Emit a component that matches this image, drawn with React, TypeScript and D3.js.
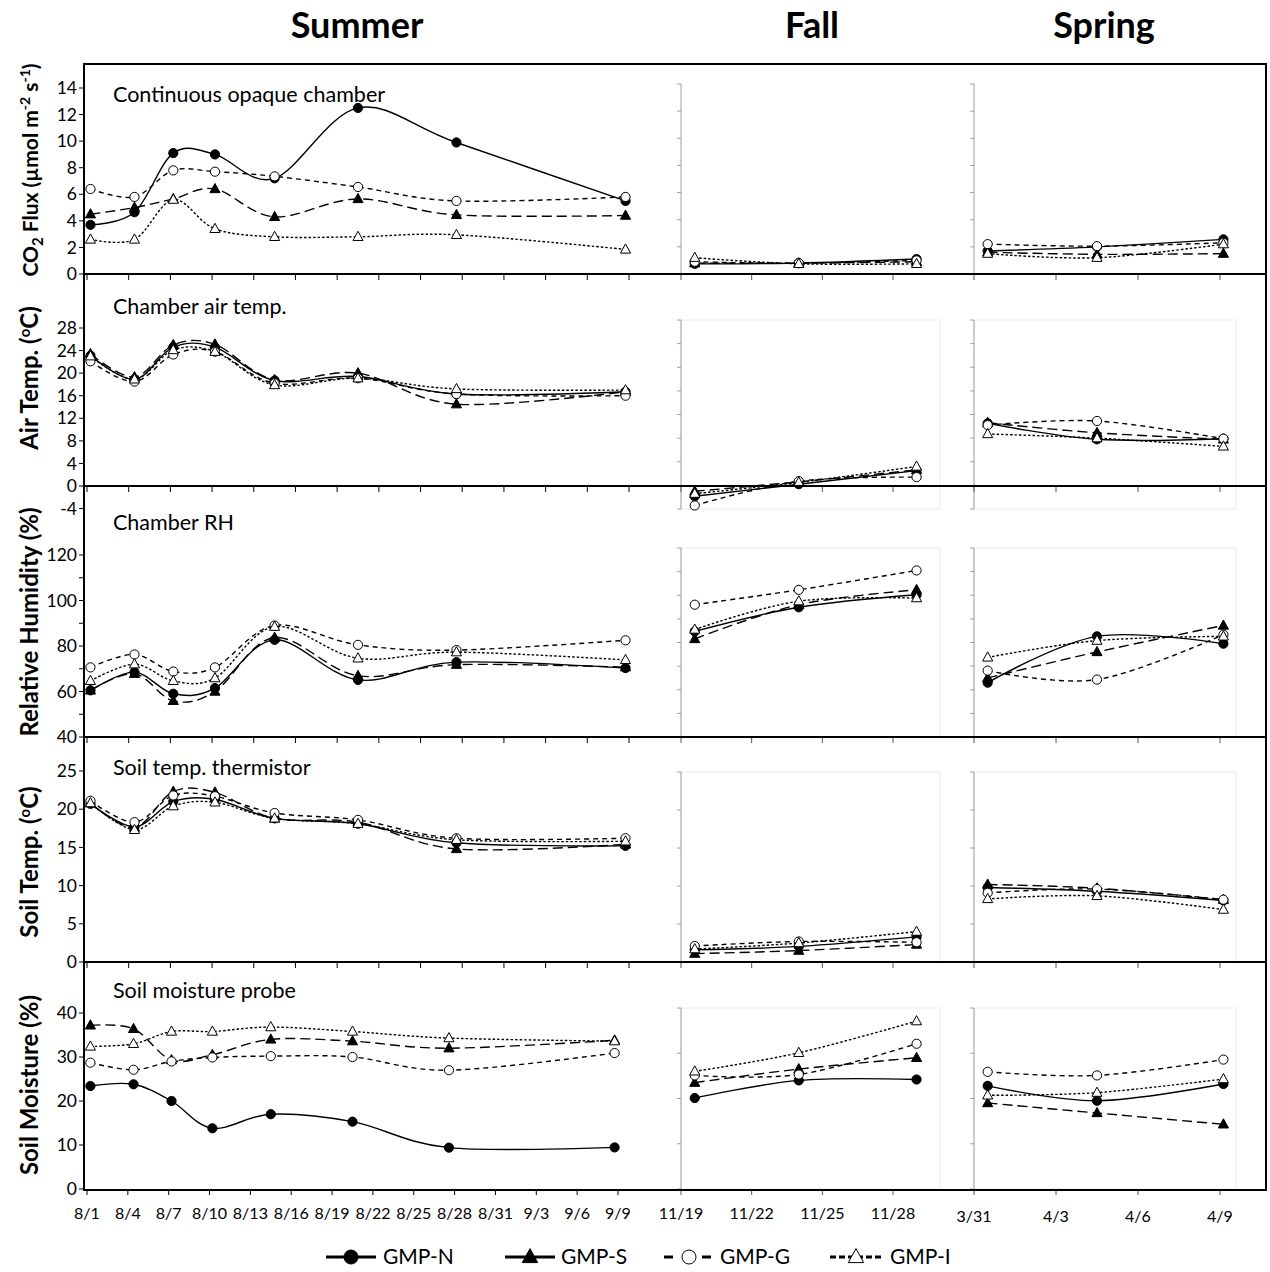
import React from "react";
import * as d3 from "d3";

// ---- data ----
const seriesNames = ["GMP-N", "GMP-S", "GMP-G", "GMP-I"];

const summerDates = [
  "2012-08-01T06:00", "2012-08-04T10:00", "2012-08-07T05:00", "2012-08-10T05:00",
  "2012-08-14T12:00", "2012-08-20T12:00", "2012-08-27T14:00", "2012-09-08T18:00",
];
const fallDates = ["2012-11-19T14:00", "2012-11-24T00:00", "2012-11-29T00:00"];
const springDates = ["2013-03-31T12:00", "2013-04-04T12:00", "2013-04-09T03:00"];

// rows: GMP-N, GMP-S, GMP-G, GMP-I
const co2Summer = [
  [3.7, 4.65, 9.1, 9.0, 7.2, 12.5, 9.9, 5.5],
  [4.5, 5.0, 5.65, 6.4, 4.3, 5.65, 4.45, 4.4],
  [6.4, 5.8, 7.8, 7.7, 7.35, 6.55, 5.5, 5.8],
  [2.6, 2.6, 5.6, 3.4, 2.8, 2.8, 2.95, 1.85],
];
const co2Fall = [
  [0.75, 0.8, 1.1],
  [0.8, 0.8, 0.9],
  [0.9, 0.8, 1.0],
  [1.2, 0.75, 0.75],
];
const co2Spring = [
  [1.7, 2.0, 2.55],
  [1.6, 1.45, 1.5],
  [2.2, 2.05, 2.3],
  [1.5, 1.2, 2.2],
];

const airSummer = [
  [23.1, 18.9, 24.6, 24.6, 18.7, 19.4, 16.3, 16.7],
  [23.4, 19.3, 25.0, 25.1, 18.8, 20.0, 14.5, 16.7],
  [22.1, 18.5, 23.3, 23.8, 18.2, 19.1, 16.3, 16.0],
  [23.0, 18.9, 24.1, 23.8, 17.9, 19.1, 17.2, 17.0],
];
const airFall = [
  [-1.85, 0.2, 2.5],
  [-1.0, 0.6, 2.6],
  [-3.4, 0.7, 1.4],
  [-1.4, 0.5, 3.2],
];
const airSpring = [
  [10.5, 7.8, 7.9],
  [10.6, 8.9, 7.8],
  [10.2, 10.9, 7.9],
  [8.7, 8.0, 6.6],
];

const rhSummer = [
  [60.5, 68.5, 59.0, 61.5, 82.7, 65.1, 72.9, 70.3],
  [60.5, 67.8, 55.9, 60.0, 83.7, 66.9, 71.8, 70.7],
  [70.6, 76.3, 68.8, 70.6, 89.0, 80.5, 78.2, 82.5],
  [64.7, 72.0, 64.7, 65.9, 88.5, 74.6, 77.3, 73.9],
];
const rhFall = [
  [84.7, 94.9, 100.2],
  [81.5, 96.0, 102.3],
  [96.0, 102.3, 110.5],
  [85.5, 97.5, 98.8],
];
const rhSpring = [
  [63.0, 82.6, 79.5],
  [65.0, 76.0, 87.2],
  [68.1, 64.3, 83.3],
  [73.7, 80.8, 82.6],
];

const soilTSummer = [
  [20.7, 17.7, 21.0, 21.3, 18.8, 18.1, 15.6, 15.2],
  [20.8, 17.6, 22.3, 22.2, 18.8, 18.3, 14.8, 15.4],
  [21.1, 18.3, 21.8, 21.7, 19.5, 18.6, 16.2, 16.2],
  [20.8, 17.3, 20.4, 20.9, 18.8, 18.1, 16.0, 15.8],
];
const soilTFall = [
  [1.6, 2.05, 3.3],
  [1.1, 1.5, 2.3],
  [2.1, 2.7, 2.6],
  [1.7, 2.5, 4.0],
];
const soilTSpring = [
  [9.8, 9.3, 8.1],
  [10.2, 9.7, 8.2],
  [9.1, 9.6, 8.2],
  [8.3, 8.7, 6.9],
];

const smSummer = [
  [23.4, 23.8, 20.0, 13.8, 17.0, 15.3, 9.4, 9.45],
  [37.2, 36.4, 29.3, 30.5, 34.0, 33.6, 32.0, 33.8],
  [28.7, 27.1, 29.0, 29.9, 30.2, 30.0, 27.0, 30.9],
  [32.4, 33.0, 35.8, 35.8, 36.8, 35.8, 34.3, 33.6],
];
const smFall = [
  [20.1, 24.0, 24.2],
  [23.5, 26.5, 29.0],
  [25.1, 25.3, 32.1],
  [26.0, 30.1, 37.1],
];
const smSpring = [
  [22.8, 19.5, 23.2],
  [19.0, 16.8, 14.3],
  [25.9, 25.1, 28.6],
  [20.7, 21.3, 24.3],
];

const seasonTitles = ["Summer", "Fall", "Spring"];
const panelTitles = [
  "Continuous opaque chamber",
  "Chamber air temp.",
  "Chamber RH",
  "Soil temp. thermistor",
  "Soil moisture probe",
];

// ---- layout ----
const FONT = "Lato, 'Open Sans', sans-serif";
const BOX = { left: 84, right: 1266, top: 64, bottom: 1190 };

const summerStart = new Date(2012, 7, 1);
const summerEnd = new Date(2012, 8, 9);
const fallStart = new Date(2012, 10, 19);
const fallEnd = new Date(2012, 10, 28);
const springStart = new Date(2013, 2, 31);
const springEnd = new Date(2013, 3, 9);

const fallX = d3.scaleTime().domain([fallStart, fallEnd]).range([681, 893]);
const springX = d3.scaleTime().domain([springStart, springEnd]).range([974, 1220]);

type PanelCfg = {
  title: string;
  titleY: number;
  base: number;
  summerRight: number;
  sumDomain: [number, number];
  sumRange: [number, number];
  sumTicks: number[];
  sumLabels: number[];
  othDomain: [number, number];
  othRange: [number, number];
  othTicks: number[];
  summer: number[][];
  fall: number[][];
  spring: number[][];
  areaBox: boolean;
};

const panels: PanelCfg[] = [
  {
    title: panelTitles[0], titleY: 102, base: 274, summerRight: 629,
    sumDomain: [0, 14], sumRange: [274, 88], sumTicks: d3.range(0, 15, 2), sumLabels: d3.range(0, 15, 2),
    othDomain: [0, 14], othRange: [274, 84], othTicks: d3.range(0, 15, 2),
    summer: co2Summer, fall: co2Fall, spring: co2Spring, areaBox: false,
  },
  {
    title: panelTitles[1], titleY: 314, base: 486, summerRight: 629,
    sumDomain: [0, 28], sumRange: [486, 328], sumTicks: d3.range(-4, 29, 4), sumLabels: d3.range(-4, 29, 4),
    othDomain: [-4, 28], othRange: [509, 320], othTicks: d3.range(-4, 29, 4),
    summer: airSummer, fall: airFall, spring: airSpring, areaBox: true,
  },
  {
    title: panelTitles[2], titleY: 530, base: 737, summerRight: 629,
    sumDomain: [40, 120], sumRange: [737, 555], sumTicks: d3.range(40, 121, 10), sumLabels: d3.range(40, 121, 20),
    othDomain: [40, 120], othRange: [737, 548], othTicks: d3.range(40, 121, 10),
    summer: rhSummer, fall: rhFall, spring: rhSpring, areaBox: true,
  },
  {
    title: panelTitles[3], titleY: 775, base: 962, summerRight: 629,
    sumDomain: [0, 25], sumRange: [962, 771], sumTicks: d3.range(0, 26, 5), sumLabels: d3.range(0, 26, 5),
    othDomain: [0, 25], othRange: [962, 772], othTicks: d3.range(0, 26, 5),
    summer: soilTSummer, fall: soilTFall, spring: soilTSpring, areaBox: true,
  },
  {
    title: panelTitles[4], titleY: 998, base: 1189, summerRight: 618,
    sumDomain: [0, 40], sumRange: [1189, 1013], sumTicks: d3.range(0, 41, 10), sumLabels: d3.range(0, 41, 10),
    othDomain: [0, 40], othRange: [1189, 1008], othTicks: d3.range(0, 41, 10),
    summer: smSummer, fall: smFall, spring: smSpring, areaBox: true,
  },
];

const seriesStyle = [
  { dash: undefined as string | undefined, fill: "#000", sym: "circle" },
  { dash: "10,5", fill: "#000", sym: "triangle" },
  { dash: "5,4", fill: "#fff", sym: "circle" },
  { dash: "2.5,2", fill: "#fff", sym: "triangle" },
];

const fmtDay = d3.timeFormat("%-m/%-d");
const summerTicks = d3.range(0, 40, 3).map((d) => d3.timeDay.offset(summerStart, d));
const fallTicks = d3.range(0, 10, 3).map((d) => d3.timeDay.offset(fallStart, d));
const springTicks = d3.range(0, 10, 3).map((d) => d3.timeDay.offset(springStart, d));

function Marker({ x, y, sym, fill, size }: { x: number; y: number; sym: string; fill: string; size: number }) {
  if (sym === "circle") {
    return <circle cx={x} cy={y} r={size} fill={fill} stroke="#000" strokeWidth={1} />;
  }
  const w = size * 2.2;
  const h = size * 2.0;
  const pts = `${x},${y - h * 0.6} ${x - w / 2},${y + h * 0.4} ${x + w / 2},${y + h * 0.4}`;
  return <polygon points={pts} fill={fill} stroke="#000" strokeWidth={1} />;
}

function SeriesGroup({
  dates, rows, xs, ys,
}: {
  dates: string[];
  rows: number[][];
  xs: d3.ScaleTime<number, number>;
  ys: d3.ScaleLinear<number, number>;
}) {
  const pts = dates.map((d) => new Date(d));
  const line = d3
    .line<number>()
    .x((_, i) => xs(pts[i]))
    .y((v) => ys(v))
    .curve(d3.curveCardinal.tension(0));
  return (
    <g>
      {rows.map((vals, si) => {
        const st = seriesStyle[si];
        return (
          <g key={si}>
            <path d={line(vals) || ""} fill="none" stroke="#000" strokeWidth={1.4} strokeDasharray={st.dash} />
            {vals.map((v, i) => (
              <Marker key={i} x={xs(pts[i])} y={ys(v)} sym={st.sym} fill={st.fill} size={4.6} />
            ))}
          </g>
        );
      })}
    </g>
  );
}

function Panel({ cfg }: { cfg: PanelCfg }) {
  const sx = d3.scaleTime().domain([summerStart, summerEnd]).range([87, cfg.summerRight]);
  const sy = d3.scaleLinear().domain(cfg.sumDomain).range(cfg.sumRange);
  const oy = d3.scaleLinear().domain(cfg.othDomain).range(cfg.othRange);
  const oTop = cfg.othRange[1];
  const oBot = cfg.othRange[0];
  return (
    <g>
      {/* faint plot areas of the fall and spring charts */}
      {cfg.areaBox && (
        <g fill="none" stroke="#ececec" strokeWidth={1}>
          <rect x={681} y={oTop} width={940 - 681} height={oBot - oTop} />
          <rect x={974} y={oTop} width={1236 - 974} height={oBot - oTop} />
        </g>
      )}
      {/* summer y axis ticks and labels */}
      {cfg.sumTicks.map((t) => (
        <line key={t} x1={BOX.left - 5} x2={BOX.left} y1={sy(t)} y2={sy(t)} stroke="#000" strokeWidth={1} />
      ))}
      {cfg.sumLabels.map((t) => (
        <text key={t} x={77} y={sy(t)} dy="0.35em" textAnchor="end" fontFamily={FONT} fontSize={17.5} fill="#000">
          {t}
        </text>
      ))}
      {/* fall & spring y axes */}
      {[681, 974].map((ax) => (
        <g key={ax} stroke="#a0a0a0" strokeWidth={1}>
          <line x1={ax} x2={ax} y1={oTop} y2={oBot} />
          {cfg.othTicks.map((t) => (
            <line key={t} x1={ax - 4} x2={ax} y1={oy(t)} y2={oy(t)} />
          ))}
        </g>
      ))}
      {/* x ticks below the baseline */}
      {summerTicks.map((d, i) => (
        <line key={"s" + i} x1={sx(d)} x2={sx(d)} y1={cfg.base} y2={cfg.base + 6} stroke="#000" strokeWidth={1} />
      ))}
      {fallTicks.map((d, i) => (
        <line key={"f" + i} x1={fallX(d)} x2={fallX(d)} y1={cfg.base} y2={cfg.base + 6} stroke="#555" strokeWidth={1} />
      ))}
      {springTicks.map((d, i) => (
        <line key={"p" + i} x1={springX(d)} x2={springX(d)} y1={cfg.base} y2={cfg.base + 6} stroke="#555" strokeWidth={1} />
      ))}
      <text x={113} y={cfg.titleY} fontFamily={FONT} fontSize={21.5} fill="#000">
        {cfg.title}
      </text>
      <SeriesGroup dates={summerDates} rows={cfg.summer} xs={sx} ys={sy} />
      <SeriesGroup dates={fallDates} rows={cfg.fall} xs={fallX} ys={oy} />
      <SeriesGroup dates={springDates} rows={cfg.spring} xs={springX} ys={oy} />
    </g>
  );
}

function AxisTitle({ cy, size, children }: { cy: number; size: number; children: React.ReactNode }) {
  return (
    <text
      transform={`translate(38,${cy}) rotate(-90)`}
      textAnchor="middle"
      fontFamily={FONT}
      fontWeight="bold"
      fontSize={size}
      fill="#000"
    >
      {children}
    </text>
  );
}

function Legend() {
  const items = [
    { x1: 326, x2: 376, mx: 351, tx: 383 },
    { x1: 505, x2: 555, mx: 530, tx: 561 },
    { x1: 664, x2: 711, mx: 689, tx: 720 },
    { x1: 830, x2: 881, mx: 856, tx: 890 },
  ];
  const y = 1257;
  return (
    <g>
      {items.map((it, i) => {
        const st = seriesStyle[i];
        let stroke: React.ReactNode;
        if (i === 2) {
          // short dash on either side of the open circle
          stroke = (
            <g stroke="#000" strokeWidth={3}>
              <line x1={it.x1} x2={it.x1 + 9} y1={y} y2={y} />
              <line x1={it.x2 - 9} x2={it.x2} y1={y} y2={y} />
            </g>
          );
        } else {
          stroke = (
            <line x1={it.x1} x2={it.x2} y1={y} y2={y} stroke="#000" strokeWidth={3} strokeDasharray={i === 3 ? "6,3" : undefined} />
          );
        }
        return (
          <g key={i}>
            {stroke}
            <Marker x={it.mx} y={y} sym={st.sym} fill={st.fill} size={7} />
            <text x={it.tx} y={y} dy="0.35em" fontFamily={FONT} fontSize={21} fill="#000">
              {seriesNames[i]}
            </text>
          </g>
        );
      })}
    </g>
  );
}

export default function App() {
  const bottomSx = d3.scaleTime().domain([summerStart, summerEnd]).range([87, panels[4].summerRight]);
  const seasonX = [357, 812, 1104];
  return (
    <svg width={1270} height={1272} style={{ display: "block", position: "absolute", left: 0, top: 0, background: "#fff" }}>
      <rect x={0} y={0} width={1270} height={1272} fill="#fff" />
      {seasonTitles.map((t, i) => (
        <text key={t} x={seasonX[i]} y={38} textAnchor="middle" fontFamily={FONT} fontWeight="bold" fontSize={36} fill="#000">
          {t}
        </text>
      ))}

      {panels.map((p, i) => (
        <Panel key={i} cfg={p} />
      ))}

      {/* frame and panel separators */}
      <rect x={BOX.left} y={BOX.top} width={BOX.right - BOX.left} height={BOX.bottom - BOX.top} fill="none" stroke="#000" strokeWidth={2} />
      {panels.slice(0, 4).map((p, i) => (
        <line key={i} x1={BOX.left} x2={BOX.right} y1={p.base} y2={p.base} stroke="#000" strokeWidth={2} />
      ))}

      {/* y axis titles */}
      <AxisTitle cy={170} size={21}>
        CO<tspan dy={5} fontSize={15}>2</tspan>
        <tspan dy={-5}> Flux (µmol m</tspan>
        <tspan dy={-8} fontSize={14}>-2</tspan>
        <tspan dy={8}> s</tspan>
        <tspan dy={-8} fontSize={14}>-1</tspan>
        <tspan dy={8}>)</tspan>
      </AxisTitle>
      <AxisTitle cy={378} size={24}>
        Air Temp. (<tspan dy={-8} fontSize={15}>o</tspan>
        <tspan dy={8}>C)</tspan>
      </AxisTitle>
      <AxisTitle cy={622} size={24}>Relative Humidity (%)</AxisTitle>
      <AxisTitle cy={862} size={24}>
        Soil Temp. (<tspan dy={-8} fontSize={15}>o</tspan>
        <tspan dy={8}>C)</tspan>
      </AxisTitle>
      <AxisTitle cy={1085} size={24}>Soil Moisture (%)</AxisTitle>

      {/* date labels */}
      {summerTicks.map((d, i) => (
        <text key={"sl" + i} x={bottomSx(d)} y={1219} textAnchor="middle" fontFamily={FONT} fontSize={16} fill="#000">
          {fmtDay(d)}
        </text>
      ))}
      {fallTicks.map((d, i) => (
        <text key={"fl" + i} x={fallX(d)} y={1219} textAnchor="middle" fontFamily={FONT} fontSize={16} fill="#000">
          {fmtDay(d)}
        </text>
      ))}
      {springTicks.map((d, i) => (
        <text key={"pl" + i} x={springX(d)} y={1222} textAnchor="middle" fontFamily={FONT} fontSize={16} fill="#000">
          {fmtDay(d)}
        </text>
      ))}

      <Legend />
    </svg>
  );
}
